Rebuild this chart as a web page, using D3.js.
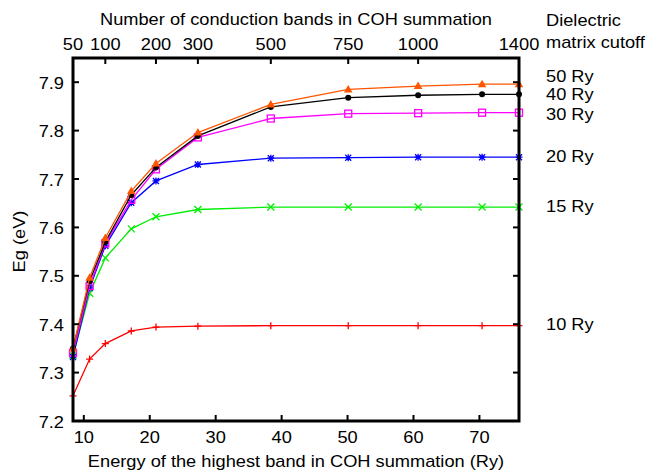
<!DOCTYPE html>
<html><head><meta charset="utf-8">
<script src="https://cdn.jsdelivr.net/npm/d3@7"></script>
<style>html,body{margin:0;padding:0;background:#fff;}svg{display:block;}</style>
</head><body>
<svg id="c" width="648" height="470"></svg>
<script>
// ---- data ----
const energies = [8.36, 10.88, 13.26, 17.2, 20.94, 27.3, 38.36, 50.1, 60.7, 70.4, 76.0];
const eg10 = [7.252, 7.328, 7.360, 7.386, 7.394, 7.396, 7.397, 7.397, 7.397, 7.397, 7.397];
const eg15 = [7.335, 7.464, 7.537, 7.597, 7.622, 7.637, 7.642, 7.642, 7.642, 7.642, 7.642];
const eg20 = [7.332, 7.475, 7.562, 7.651, 7.696, 7.730, 7.743, 7.744, 7.745, 7.745, 7.745];
const eg30 = [7.341, 7.479, 7.567, 7.657, 7.720, 7.786, 7.825, 7.835, 7.836, 7.837, 7.837];
const eg40 = [7.350, 7.489, 7.570, 7.667, 7.724, 7.789, 7.849, 7.868, 7.873, 7.875, 7.875];
const eg50 = [7.350, 7.496, 7.578, 7.675, 7.732, 7.796, 7.854, 7.885, 7.892, 7.896, 7.896];
const cutoffLabels = ["10 Ry", "15 Ry", "20 Ry", "30 Ry", "40 Ry", "50 Ry"];
const cutoffLabelAt = [7.399, 7.644, 7.747, 7.833, 7.875, 7.911];
const bottomTicks = [10, 20, 30, 40, 50, 60, 70];
const yTicks = [7.2, 7.3, 7.4, 7.5, 7.6, 7.7, 7.8, 7.9];
const topTickBands = [50, 100, 200, 300, 500, 750, 1000, 1400];
const topTickEnergies = [8.36, 13.26, 20.94, 27.3, 38.36, 50.1, 60.7, 76.0];

const series = [
  {values: eg10, color: "#ff0000", marker: "plus"},
  {values: eg15, color: "#00ee00", marker: "cross"},
  {values: eg20, color: "#0000ff", marker: "star"},
  {values: eg30, color: "#ff00ff", marker: "square"},
  {values: eg40, color: "#000000", marker: "circle"},
  {values: eg50, color: "#ff5500", marker: "triangle"}
];

// ---- layout ----
const L = 73, R = 519, T = 58, B = 421;
const x = d3.scaleLinear().domain([8.36, 76.0]).range([L, R]);
const y = d3.scaleLinear().domain([7.2, 7.95]).range([B, T]);
const svg = d3.select("#c");
const FONT = "'Liberation Sans', Arial, sans-serif";
const FS = 16, SX = 1.14;

function txt(xp, yp, s, anchor, rot) {
  const g = svg.append("g").attr("transform", `translate(${xp},${yp})` + (rot ? ` rotate(${rot})` : ""));
  g.append("text").attr("transform", `scale(${SX},1)`)
    .attr("text-anchor", anchor || "middle").attr("dominant-baseline", "central")
    .attr("font-family", FONT).attr("font-size", FS).attr("fill", "#000").text(s);
}

// ---- lines & markers ----
const clip = svg.append("defs").append("clipPath").attr("id", "pc");
clip.append("rect").attr("x", L - 6).attr("y", T - 6).attr("width", R - L + 12).attr("height", B - T + 12);
const plot = svg.append("g");
const line = d3.line().x((d, i) => x(energies[i])).y(d => y(d));
series.forEach(s => {
  plot.append("path").attr("d", line(s.values)).attr("fill", "none")
    .attr("stroke", s.color).attr("stroke-width", 1.3);
  s.values.forEach((v, i) => {
    const cx = x(energies[i]), cy = y(v);
    const g = plot.append("g").attr("transform", `translate(${cx},${cy})`);
    const st = {stroke: s.color, "stroke-width": 1.3, fill: "none"};
    const ap = (sel) => { Object.entries(st).forEach(([k, val]) => sel.attr(k, val)); return sel; };
    if (s.marker === "plus") {
      ap(g.append("path").attr("d", "M-3.5,0H3.5M0,-3.5V3.5"));
    } else if (s.marker === "cross") {
      ap(g.append("path").attr("d", "M-3.5,-3.5L3.5,3.5M-3.5,3.5L3.5,-3.5"));
    } else if (s.marker === "star") {
      ap(g.append("path").attr("d", "M-3.5,0H3.5M0,-3.5V3.5M-3,-3L3,3M-3,3L3,-3"));
    } else if (s.marker === "square") {
      ap(g.append("rect").attr("x", -3.5).attr("y", -3.5).attr("width", 7).attr("height", 7));
    } else if (s.marker === "circle") {
      g.append("circle").attr("r", 3).attr("fill", s.color);
    } else if (s.marker === "triangle") {
      g.append("path").attr("d", "M0,-4.5L4.3,3L-4.3,3Z").attr("fill", s.color);
    }
  });
});

// ---- ticks ----
const tk = svg.append("g").attr("stroke", "#000").attr("stroke-width", 2);
bottomTicks.forEach(v => {
  tk.append("line").attr("x1", x(v)).attr("x2", x(v)).attr("y1", B).attr("y2", B - 6);
  txt(x(v), 437, String(v));
});
yTicks.forEach(v => {
  tk.append("line").attr("x1", L).attr("x2", L + 6).attr("y1", y(v)).attr("y2", y(v));
  tk.append("line").attr("x1", R).attr("x2", R - 6).attr("y1", y(v)).attr("y2", y(v));
  txt(64, y(v) + 1, v.toFixed(1), "end");
});
topTickBands.forEach((b, i) => {
  const xp = x(topTickEnergies[i]);
  tk.append("line").attr("x1", xp).attr("x2", xp).attr("y1", T).attr("y2", T + 6);
  txt(xp, 44, String(b));
});

// ---- frame ----
svg.append("rect").attr("x", L).attr("y", T).attr("width", R - L).attr("height", B - T)
  .attr("fill", "none").attr("stroke", "#000").attr("stroke-width", 3);

// ---- labels ----
txt((L + R) / 2, 19, "Number of conduction bands in COH summation");
txt((L + R) / 2, 461, "Energy of the highest band in COH summation (Ry)");
txt(19, (T + B) / 2 + 2, "Eg (eV)", "middle", -90);
txt(546, 20, "Dielectric", "start");
txt(546, 42, "matrix cutoff", "start");
cutoffLabels.forEach((s, i) => txt(546, y(cutoffLabelAt[i]), s, "start"));
</script>
</body></html>
